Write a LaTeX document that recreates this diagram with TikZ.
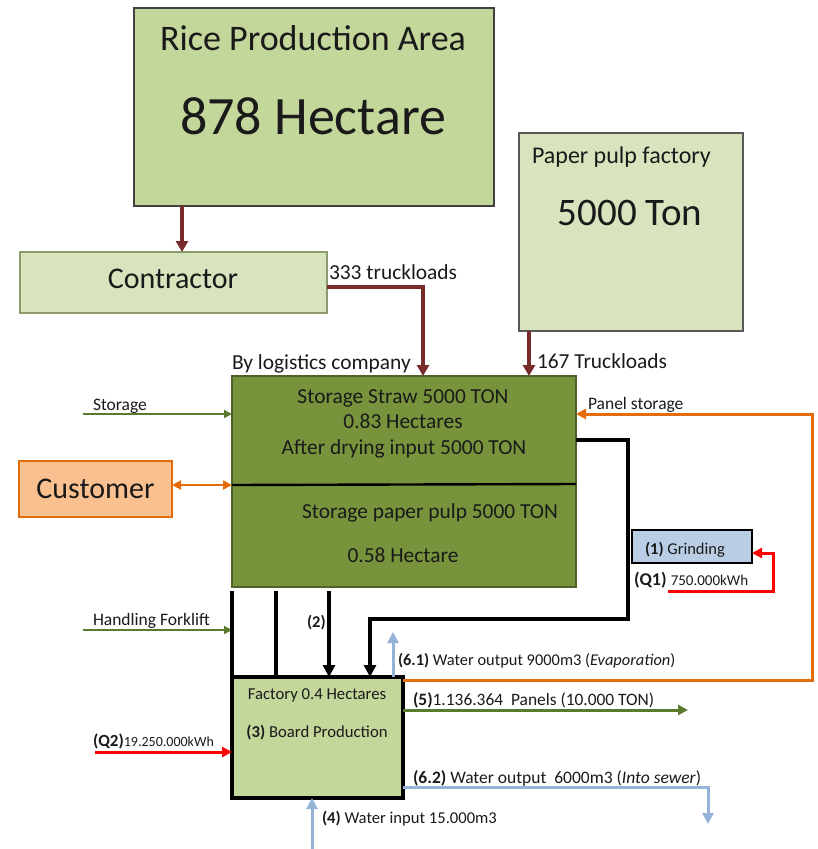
\documentclass[tikz,border=0pt]{standalone}
\usepackage{fontspec}
\setmainfont{Carlito}
\usetikzlibrary{arrows.meta,calc}
\definecolor{ricefill}{HTML}{C4D79B}
\definecolor{lightfill}{HTML}{D7E4BD}
\definecolor{colOlive}{HTML}{77933C}
\definecolor{colOliveDark}{HTML}{4F6228}
\definecolor{colMaroon}{HTML}{772C2A}
\definecolor{colGrnLine}{HTML}{5A7A2E}
\definecolor{colOrange}{HTML}{E46C0A}
\definecolor{custfill}{HTML}{FAC090}
\definecolor{colLtBlue}{HTML}{95B3D7}
\definecolor{grindfill}{HTML}{B9CDE5}
\definecolor{txtc}{HTML}{1A1A1A}
\definecolor{boxedge}{HTML}{8C9C6C}
\newcommand\fsz[1]{\fontsize{#1}{#1}\selectfont}
\begin{document}
\begin{tikzpicture}[x=1pt,y=-1pt,
  box/.style={draw, inner sep=0pt, outer sep=0pt, anchor=north west},
  lbl/.style={inner sep=0pt, outer sep=0pt, anchor=base west, text=txtc},
  ctr/.style={inner sep=0pt, outer sep=0pt, anchor=base, text=txtc},
  marr/.style={draw=colMaroon, line width=3.2pt, -{Triangle[length=11pt,width=12pt]}},
  blk/.style={draw=black, line width=3.2pt},
  blkarr/.style={blk, -{Triangle[length=12pt,width=12pt]}},
  grnarr/.style={draw=colGrnLine, line width=2pt, -{Triangle[length=8pt,width=8pt]}},
  grnarrb/.style={draw=colGrnLine, line width=3pt, -{Triangle[length=10pt,width=10pt]}},
  orarr/.style={draw=colOrange, line width=3pt, -{Triangle[length=10pt,width=10pt]}},
  orarr2/.style={draw=colOrange, line width=2.6pt, {Triangle[length=9pt,width=9pt]}-{Triangle[length=9pt,width=9pt]}},
  redarr/.style={draw=red, line width=3pt, -{Triangle[length=10pt,width=10pt]}},
  bluarr/.style={draw=colLtBlue, line width=3pt, -{Triangle[length=11pt,width=11pt]}}
]
\useasboundingbox (0,0) rectangle (817,849);

% boxes
\node[box, fill=ricefill, draw=black!75, line width=1.2pt, minimum width=360pt, minimum height=198pt] (rice) at (134,8) {};
\node[ctr, font=\fsz{36}] (riceT) at (313,50) {Rice Production Area};
\node[ctr, font=\fsz{54}] (riceH) at (313,134) {878 Hectare};

\node[box, fill=lightfill, draw=boxedge, line width=1.2pt, minimum width=307pt, minimum height=61pt] (contractor) at (20,252) {};
\node[ctr, font=\fsz{30}] (contractorT) at (173,288) {Contractor};

\node[box, fill=lightfill, draw=black!65, line width=1.2pt, minimum width=224pt, minimum height=198pt] (pulp) at (519,133) {};
\node[lbl, font=\fsz{24}] (pulpT) at (532,163) {Paper pulp factory};
\node[ctr, font=\fsz{39}] (pulpH) at (630,225) {5000 Ton};

\node[box, fill=colOlive, draw=colOliveDark, line width=1.5pt, minimum width=344pt, minimum height=211pt] (storage) at (232,376) {};
\draw[black, line width=2.4pt] (storage.west |- 0,485) -- (storage.east |- 0,484);
\node[ctr, font=\fsz{21.4}] (st1) at (403,403) {Storage Straw 5000 TON};
\node[ctr, font=\fsz{21.4}] (st2) at (403,428) {0.83 Hectares};
\node[ctr, font=\fsz{21.4}] (st3) at (404,454) {After drying input 5000 TON};
\node[ctr, font=\fsz{21.4}] (st4) at (430,518) {Storage paper pulp 5000 TON};
\node[ctr, font=\fsz{21.4}] (st5) at (403,562) {0.58 Hectare};

\node[box, fill=custfill, draw=colOrange, line width=2.2pt, minimum width=153pt, minimum height=56pt] (customer) at (19,461) {};
\node[ctr, font=\fsz{30}] (customerT) at (95.5,498) {Customer};

\node[box, fill=grindfill, draw=black, line width=2.8pt, minimum width=120pt, minimum height=33pt] (grinding) at (632,530) {};
\node[lbl, font=\fsz{16.5}] (grindingT) at (645,554) {\textbf{(1)} Grinding};

\node[box, fill=ricefill, draw=black, line width=3.2pt, minimum width=171pt, minimum height=121pt] (factory) at (232,677) {};
\node[ctr, font=\fsz{16.7}] (factoryT1) at (317,699) {Factory 0.4 Hectares};
\node[ctr, font=\fsz{16.7}] (factoryT2) at (317,737) {\textbf{(3)} Board Production};

% maroon connectors
\draw[marr] (182,0 |- rice.south) -- (182,0 |- contractor.north);
\draw[marr] (contractor.east |- 0,287) -| (423,0 |- storage.north);
\draw[marr] (529,0 |- pulp.south) -- (529,0 |- storage.north);
\node[lbl, font=\fsz{21.4}] (l333) at (329,279) {333 truckloads};
\node[lbl, font=\fsz{21.4}] (llog) at (232,369) {By logistics company};
\node[lbl, font=\fsz{21.4}] (l167) at (537,368) {167 Truckloads};

% left inputs
\coordinate (stin) at (83,414);
\draw[grnarr] (stin) -- (storage.west |- stin);
\node[lbl, font=\fsz{17.5}] (lstor) at (93,410) {Storage};
\draw[orarr2] (customer.east |- 0,485) -- (storage.west |- 0,485);
\coordinate (hfin) at (83,630);
\draw[grnarr] (hfin) -- (factory.west |- hfin);
\node[lbl, font=\fsz{17.5}] (lhf) at (93,625) {Handling Forklift};
\coordinate (q2in) at (95,752);
\draw[redarr] (q2in) -- (factory.west |- q2in);
\node[lbl] (lq2) at (93,746) {\fsz{17}\textbf{(Q2)}\fsz{14}19.250.000kWh};

% black lines storage -> factory
\draw[blk] ($(storage.south -| 232,0)+(0,4)$) -- (232,0 |- factory.north);
\draw[blk] ($(storage.south -| 276,0)+(0,4)$) -- (276,0 |- factory.north);
\draw[blkarr] ($(storage.south -| 329,0)+(0,4)$) -- (329,0 |- factory.north);
\node[lbl, font=\fsz{16.5}] (l2) at (307,627) {\textbf{(2)}};
\draw[blkarr] (storage.east |- 0,440) -- (628,440) -- (628,619) -- (370,619) -- (370,0 |- factory.north);

% grinding energy
\coordinate (q1in) at (668,591);
\draw[redarr] (q1in) -- (773,591) |- (grinding.east |- 0,553);
\node[lbl] (lq1) at (634,585) {\fsz{18}\textbf{(Q1)} \fsz{15}750.000kWh};

% panel storage loop
\draw[orarr] (factory.east |- 0,680) -- (812,680) -- (812,414) -- (storage.east |- 0,414);
\node[lbl, font=\fsz{17.5}] (lps) at (588,409) {Panel storage};

% outputs
\coordinate (w61) at (393,632);
\draw[bluarr] (393,0 |- factory.north) -- (w61);
\node[lbl, font=\fsz{16.4}] (l61) at (398,665) {\textbf{(6.1)} Water output 9000m3 (\textit{Evaporation})};
\coordinate (p5) at (688,710);
\draw[grnarrb] (factory.east |- p5) -- (p5);
\node[lbl, font=\fsz{17.4}] (l5) at (413,705) {\textbf{(5)}1.136.364\ \ Panels (10.000 TON)};
\coordinate (w62) at (708,824);
\draw[bluarr] (factory.east |- 0,787) -| (w62);
\node[lbl, font=\fsz{17.5}] (l62) at (413,783) {\textbf{(6.2)} Water output\ \ 6000m3 (\textit{Into sewer})};
\coordinate (w4) at (312,849);
\draw[bluarr] (w4) -- (w4 |- factory.south);
\node[lbl, font=\fsz{16.6}] (l4) at (322,823) {\textbf{(4)} Water input 15.000m3};
\end{tikzpicture}
\end{document}
